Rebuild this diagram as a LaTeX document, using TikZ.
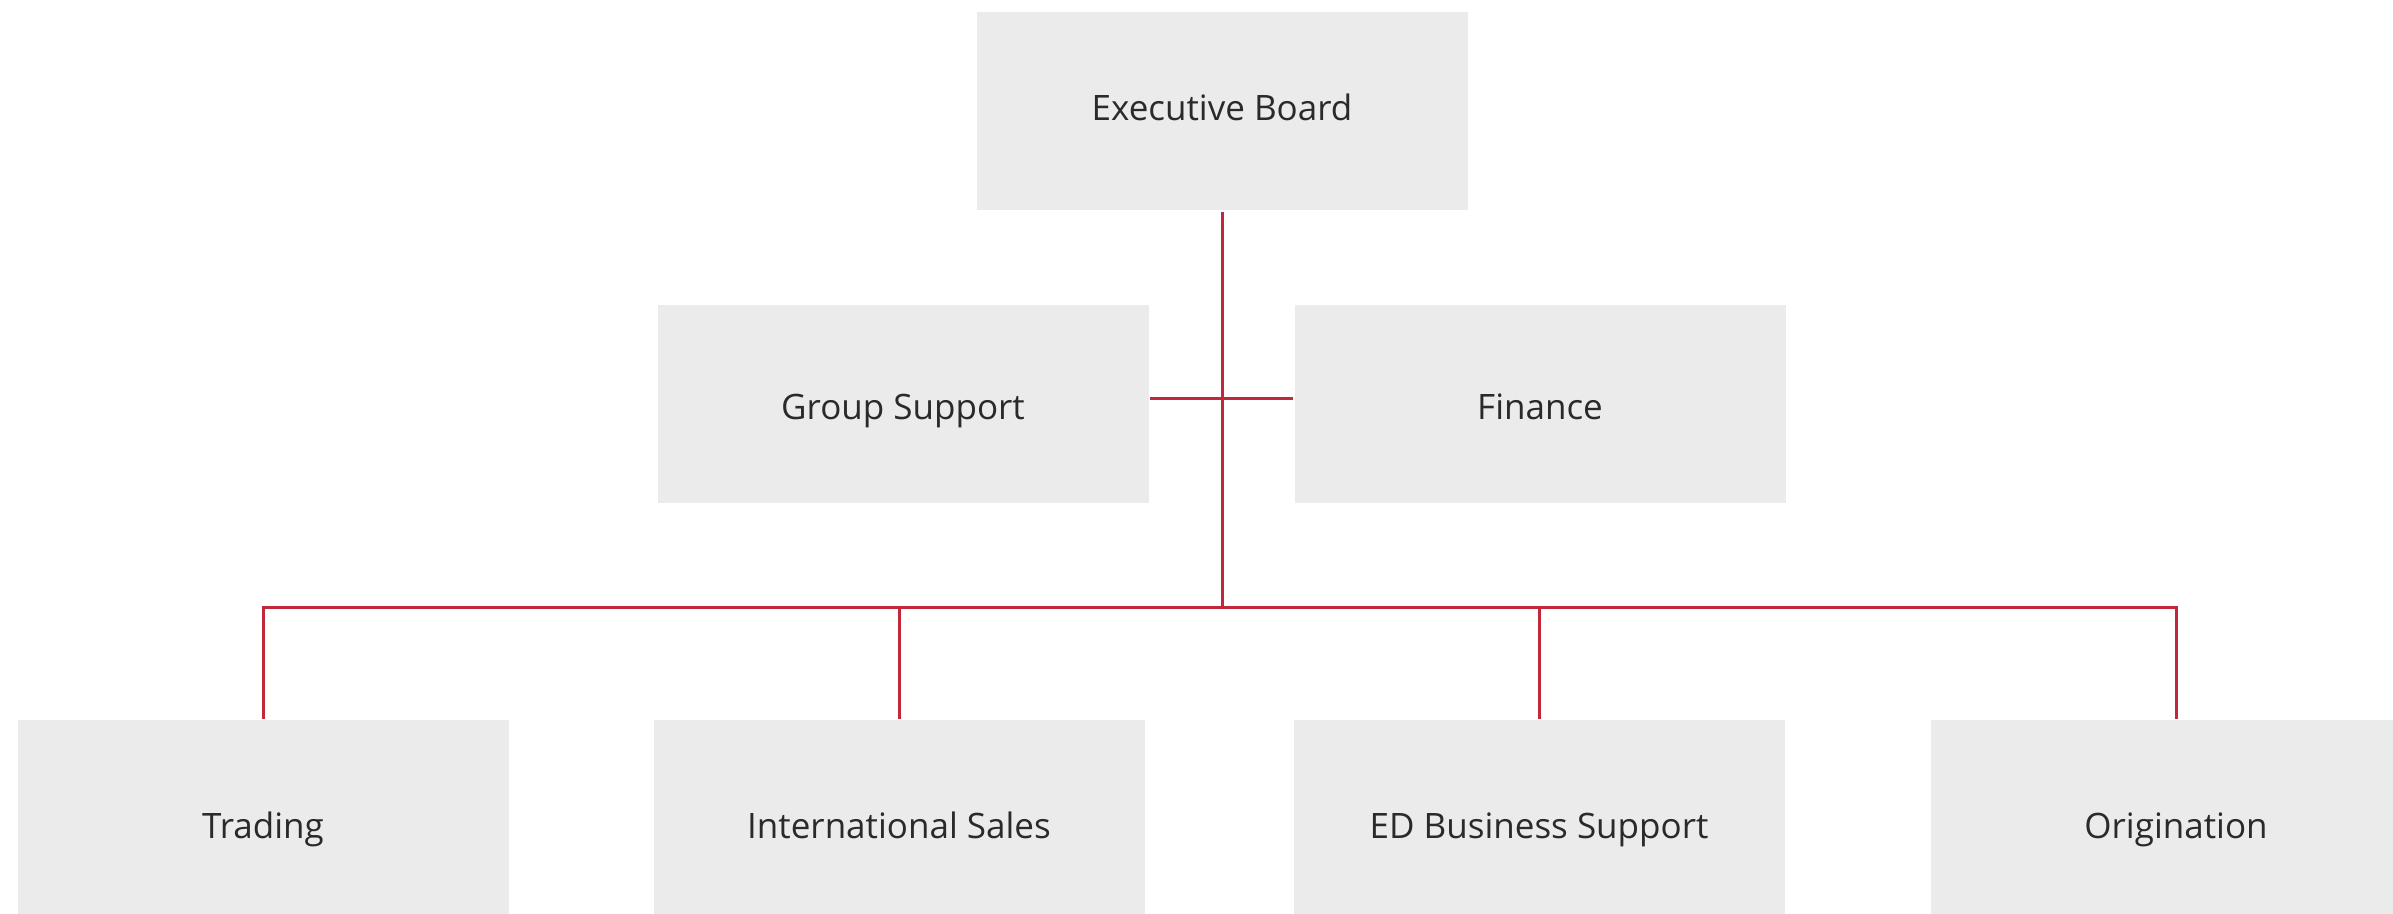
\documentclass[tikz,border=0pt]{standalone}
\usepackage{fontspec}
\setmainfont{Open Sans}
\definecolor{boxgray}{HTML}{EBEBEB}
\definecolor{linkred}{HTML}{C1283C}
\definecolor{textgray}{HTML}{2A2A2A}

\begin{document}
\begin{tikzpicture}[x=1pt, y=-1pt,
                    line width=3pt,
                    font=\fontsize{35}{42}\selectfont]
    \tikzstyle{unit}=[rectangle,fill=boxgray,text=textgray,minimum width=491pt,minimum height=198pt,inner sep=0pt,text depth=0pt]
    \tikzstyle{topunit}=[unit,text height=19pt]
    \tikzstyle{midunit}=[unit,text height=31pt]
    \tikzstyle{lowunit}=[unit,text height=39pt]
    \tikzstyle{link}=[draw=linkred,line width=3pt]

    \useasboundingbox (0,0) rectangle (2393,913);

    \node[topunit] (board) at (1222,111) {Executive Board};
    \node[midunit] (group) at (903,404) {Group Support};
    \node[midunit] (finance) at (1540,404) {Finance};

    \node[lowunit] (trading) at (263,819) {Trading};
    \node[lowunit] (intl) at (899,819) {International Sales};
    \node[lowunit] (edsupport) at (1539,819) {ED Business Support};
    \node[lowunit] (origination) at (2176,819) {Origination};

    \coordinate (hub) at (1222,398);
    \coordinate (bus) at (1222,607);

    \draw[link] (board.south) -- (bus);
    \draw[link] (group.east |- hub) -- (finance.west |- hub);
    \draw[link] (trading.north) |- (bus) -| (origination.north);
    \draw[link] (intl.north) -- (intl.north |- bus);
    \draw[link] (edsupport.north) -- (edsupport.north |- bus);
\end{tikzpicture}
\end{document}
